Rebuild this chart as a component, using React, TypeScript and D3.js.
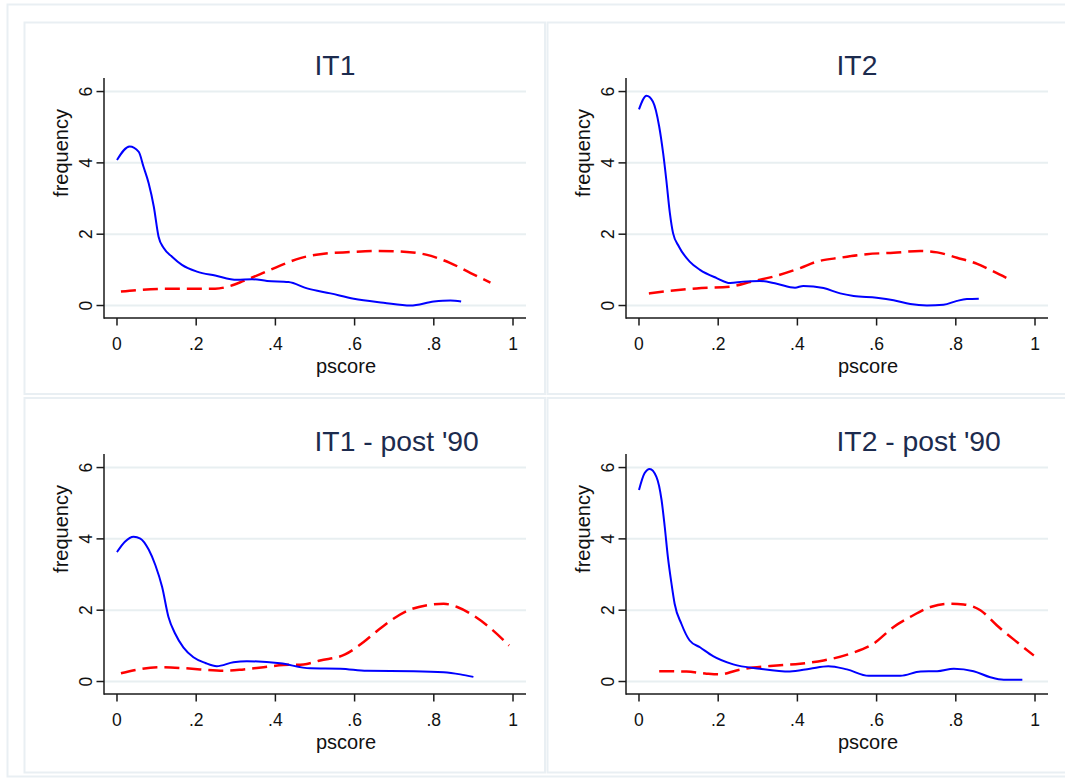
import React, { useRef, useEffect } from "react";
import { select, scaleLinear, line, curveMonotoneX } from "d3";

// panel titles, in reading order
const titles = ["IT1", "IT2", "IT1 - post '90", "IT2 - post '90"];

const xTicks = [0, 0.2, 0.4, 0.6, 0.8, 1];
const xTickLabels = ["0", ".2", ".4", ".6", ".8", "1"];
const yTicks = [0, 2, 4, 6];

// density of pscore, blue = untreated, red = treated
const it1Blue = [
  [0, 4.08], [0.032, 4.46], [0.055, 4.31], [0.067, 3.89], [0.08, 3.43], [0.093, 2.77],
  [0.105, 1.93], [0.118, 1.61], [0.139, 1.37], [0.164, 1.14], [0.202, 0.95], [0.248, 0.84],
  [0.303, 0.72], [0.341, 0.74], [0.379, 0.69], [0.433, 0.66], [0.48, 0.48], [0.539, 0.34],
  [0.598, 0.19], [0.673, 0.08], [0.741, 0.0], [0.8, 0.11], [0.842, 0.14], [0.869, 0.11],
];
const it1Red = [
  [0.01, 0.39], [0.059, 0.44], [0.126, 0.47], [0.21, 0.47], [0.248, 0.47], [0.286, 0.55],
  [0.32, 0.69], [0.362, 0.88], [0.412, 1.12], [0.463, 1.33], [0.513, 1.44], [0.589, 1.5],
  [0.656, 1.53], [0.724, 1.51], [0.783, 1.42], [0.842, 1.19], [0.893, 0.91], [0.943, 0.64],
];
const it2Blue = [
  [0, 5.5], [0.019, 5.88], [0.035, 5.72], [0.051, 5.02], [0.061, 4.27], [0.069, 3.52],
  [0.078, 2.59], [0.086, 2.03], [0.101, 1.65], [0.128, 1.23], [0.154, 1.0], [0.196, 0.77],
  [0.23, 0.63], [0.263, 0.67], [0.305, 0.69], [0.348, 0.61], [0.394, 0.5], [0.415, 0.55],
  [0.466, 0.49], [0.508, 0.34], [0.542, 0.27], [0.6, 0.22], [0.643, 0.15], [0.685, 0.04],
  [0.727, 0.0], [0.769, 0.02], [0.803, 0.13], [0.828, 0.18], [0.858, 0.19],
];
const it2Red = [
  [0.025, 0.34], [0.078, 0.41], [0.145, 0.48], [0.23, 0.53], [0.288, 0.68], [0.339, 0.81],
  [0.407, 1.05], [0.449, 1.23], [0.508, 1.34], [0.575, 1.44], [0.643, 1.48], [0.71, 1.53],
  [0.753, 1.49], [0.803, 1.34], [0.854, 1.17], [0.896, 0.95], [0.934, 0.74],
];
const it1PostBlue = [
  [0, 3.63], [0.02, 3.92], [0.042, 4.06], [0.059, 4.01], [0.08, 3.7], [0.097, 3.26],
  [0.114, 2.65], [0.13, 1.81], [0.147, 1.34], [0.168, 0.95], [0.193, 0.68], [0.223, 0.52],
  [0.252, 0.43], [0.294, 0.54], [0.328, 0.57], [0.412, 0.51], [0.488, 0.37], [0.564, 0.36],
  [0.631, 0.3], [0.749, 0.29], [0.825, 0.26], [0.867, 0.2], [0.9, 0.13],
];
const it1PostRed = [
  [0.01, 0.23], [0.05, 0.33], [0.109, 0.4], [0.16, 0.38], [0.21, 0.34], [0.269, 0.3],
  [0.32, 0.34], [0.37, 0.4], [0.42, 0.46], [0.471, 0.48], [0.513, 0.59], [0.576, 0.76],
  [0.622, 1.1], [0.656, 1.41], [0.698, 1.76], [0.741, 2.02], [0.783, 2.14], [0.825, 2.18],
  [0.859, 2.09], [0.893, 1.9], [0.935, 1.57], [0.99, 1.01],
];
const it2PostBlue = [
  [0, 5.37], [0.014, 5.84], [0.027, 5.96], [0.044, 5.74], [0.057, 5.09], [0.065, 4.34],
  [0.073, 3.49], [0.082, 2.75], [0.09, 2.18], [0.107, 1.62], [0.128, 1.15], [0.154, 0.96],
  [0.187, 0.71], [0.238, 0.48], [0.305, 0.36], [0.381, 0.28], [0.432, 0.36], [0.478, 0.43],
  [0.525, 0.34], [0.58, 0.16], [0.66, 0.16], [0.711, 0.28], [0.753, 0.29], [0.795, 0.36],
  [0.845, 0.29], [0.887, 0.12], [0.921, 0.05], [0.968, 0.05],
];
const it2PostRed = [
  [0.051, 0.29], [0.12, 0.28], [0.171, 0.22], [0.204, 0.2], [0.246, 0.31], [0.288, 0.39],
  [0.348, 0.45], [0.407, 0.5], [0.466, 0.59], [0.533, 0.78], [0.592, 1.06], [0.643, 1.53],
  [0.685, 1.81], [0.736, 2.09], [0.778, 2.18], [0.82, 2.16], [0.862, 2.0], [0.904, 1.57],
  [0.955, 1.1], [0.997, 0.73],
];

const blueSeries = [it1Blue, it2Blue, it1PostBlue, it2PostBlue];
const redSeries = [it1Red, it2Red, it1PostRed, it2PostRed];

const FONT = "'Liberation Sans', Arial, Helvetica, sans-serif";
const W = 1065;
const H = 783;

export default function App() {
  const svgRef = useRef(null);

  useEffect(() => {
    const svg = select(svgRef.current);
    svg.selectAll("*").remove();

    svg.append("rect").attr("width", W).attr("height", H).attr("fill", "#fff");

    // outer frame of the graph
    svg
      .append("rect")
      .attr("x", 7.5)
      .attr("y", 4.5)
      .attr("width", 1100)
      .attr("height", 772)
      .attr("fill", "none")
      .attr("stroke", "#e9eff3")
      .attr("stroke-width", 2);

    titles.forEach((title, i) => {
      const col = i % 2;
      const row = Math.floor(i / 2);
      const dx = col * 522;
      const dy = row * 376;

      const g = svg.append("g");

      // panel border
      g.append("rect")
        .attr("x", col === 0 ? 24.5 : 547.5)
        .attr("y", row === 0 ? 22.5 : 398)
        .attr("width", col === 0 ? 520.5 : 540)
        .attr("height", row === 0 ? 371.5 : 374.5)
        .attr("fill", "#fff")
        .attr("stroke", "#e9eff3")
        .attr("stroke-width", 2);

      const xScale = scaleLinear().domain([-0.0328, 1.0328]).range([104 + dx, 526 + dx]);
      const yScale = scaleLinear().domain([-0.35, 6.38]).range([318 + dy, 78 + dy]);
      const x0 = xScale.range()[0];
      const x1 = xScale.range()[1];
      const yb = yScale.range()[0];
      const yt = yScale.range()[1];

      // grid
      g.selectAll(".grid")
        .data(yTicks)
        .join("line")
        .attr("x1", x0)
        .attr("x2", x1)
        .attr("y1", (d) => yScale(d))
        .attr("y2", (d) => yScale(d))
        .attr("stroke", "#e8eff1")
        .attr("stroke-width", 2);

      // axes
      g.append("line")
        .attr("x1", x0).attr("x2", x0).attr("y1", yt).attr("y2", yb + 0.75)
        .attr("stroke", "#1a1a1a").attr("stroke-width", 1.5);
      g.append("line")
        .attr("x1", x0).attr("x2", x1).attr("y1", yb).attr("y2", yb)
        .attr("stroke", "#1a1a1a").attr("stroke-width", 1.5);

      // y ticks + rotated labels
      g.selectAll(".ytick")
        .data(yTicks)
        .join("line")
        .attr("x1", x0 - 7.5).attr("x2", x0)
        .attr("y1", (d) => yScale(d)).attr("y2", (d) => yScale(d))
        .attr("stroke", "#1a1a1a").attr("stroke-width", 1.5);
      g.selectAll(".ylab")
        .data(yTicks)
        .join("text")
        .attr("transform", (d) => `translate(${x0 - 12},${yScale(d)}) rotate(-90)`)
        .attr("text-anchor", "middle")
        .attr("font-family", FONT)
        .attr("font-size", 17.5)
        .attr("fill", "#111")
        .text((d) => d);

      // x ticks + labels
      g.selectAll(".xtick")
        .data(xTicks)
        .join("line")
        .attr("x1", (d) => xScale(d)).attr("x2", (d) => xScale(d))
        .attr("y1", yb).attr("y2", yb + 7.5)
        .attr("stroke", "#1a1a1a").attr("stroke-width", 1.5);
      g.selectAll(".xlab")
        .data(xTicks)
        .join("text")
        .attr("x", (d) => xScale(d))
        .attr("y", yb + 32)
        .attr("text-anchor", "middle")
        .attr("font-family", FONT)
        .attr("font-size", 17.5)
        .attr("fill", "#111")
        .text((d, k) => xTickLabels[k]);

      // axis titles
      g.append("text")
        .attr("transform", `translate(${x0 - 36.5},${153 + dy}) rotate(-90)`)
        .attr("text-anchor", "middle")
        .attr("font-family", FONT)
        .attr("font-size", 20)
        .attr("fill", "#111")
        .text("frequency");
      g.append("text")
        .attr("x", 346 + dx)
        .attr("y", 373.3 + dy)
        .attr("text-anchor", "middle")
        .attr("font-family", FONT)
        .attr("font-size", 20)
        .attr("fill", "#111")
        .text("pscore");

      // panel title
      g.append("text")
        .attr("x", 314.5 + dx)
        .attr("y", 75 + dy)
        .attr("font-family", FONT)
        .attr("font-size", 28.3)
        .attr("fill", "#1c2b4e")
        .text(title);

      const lineGen = line()
        .x((d) => xScale(d[0]))
        .y((d) => yScale(d[1]))
        .curve(curveMonotoneX);

      g.append("path")
        .attr("d", lineGen(redSeries[i]))
        .attr("fill", "none")
        .attr("stroke", "#ff0000")
        .attr("stroke-width", 2.5)
        .attr("stroke-dasharray", "15,7");

      g.append("path")
        .attr("d", lineGen(blueSeries[i]))
        .attr("fill", "none")
        .attr("stroke", "#0000ff")
        .attr("stroke-width", 2);
    });
  }, []);

  return (
    <svg
      ref={svgRef}
      width={W}
      height={H}
      style={{ position: "absolute", left: 0, top: 0, display: "block" }}
    ></svg>
  );
}
